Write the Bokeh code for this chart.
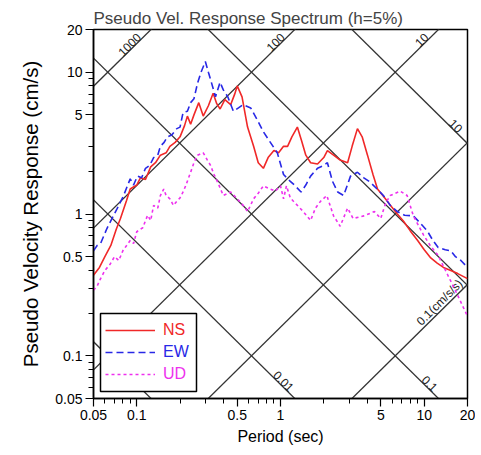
import math
from bokeh.plotting import figure
from bokeh.models import (FixedTicker, CustomJSTickFormatter, Legend, LegendItem,
                          BoxAnnotation, ColumnDataSource)
from bokeh.core.properties import value
from bokeh.embed import file_html
from bokeh.resources import INLINE

# ---------------- data ----------------
ns_period = [0.05, 0.055, 0.06, 0.066, 0.072, 0.077, 0.085, 0.09, 0.1, 0.106,
             0.115, 0.125, 0.135, 0.146, 0.16, 0.17, 0.185, 0.2, 0.215, 0.225,
             0.237, 0.25, 0.27, 0.29, 0.315, 0.34, 0.36, 0.38, 0.41, 0.45,
             0.48, 0.5, 0.54, 0.59, 0.65, 0.7, 0.76, 0.82, 0.9, 0.97,
             1.05, 1.12, 1.2, 1.31, 1.4, 1.5, 1.62, 1.81, 2.0, 2.12,
             2.34, 2.6, 2.93, 3.15, 3.43, 3.7, 4.03, 4.4, 4.73, 5.3,
             5.83, 6.5, 7.18, 8.0, 9.0, 10.0, 11.1, 12.3, 13.6, 15.3,
             17.1, 20.0]
ns_psv = [0.37, 0.42, 0.5, 0.6, 0.78, 0.93, 1.25, 1.5, 1.6, 1.8,
          1.75, 2.15, 2.3, 2.6, 2.7, 3.0, 3.2, 3.5, 4.2, 4.9,
          4.3, 5.0, 6.1, 4.9, 5.8, 7.1, 6.0, 5.5, 6.4, 5.9,
          7.0, 8.0, 6.7, 4.1, 3.0, 2.3, 2.1, 2.5, 2.8, 2.7,
          3.0, 3.0, 3.5, 4.1, 3.3, 2.6, 2.3, 2.25, 2.5, 2.8,
          2.6, 2.4, 2.3, 3.0, 4.0, 3.5, 2.6, 1.9, 1.5, 1.3,
          1.15, 1.0, 0.89, 0.76, 0.65, 0.56, 0.49, 0.45, 0.42, 0.4,
          0.38, 0.35]

ew_period = [0.05, 0.053, 0.056, 0.062, 0.068, 0.073, 0.081, 0.09, 0.095, 0.101,
             0.108, 0.115, 0.123, 0.131, 0.14, 0.146, 0.155, 0.163, 0.175, 0.19,
             0.2, 0.21, 0.225, 0.237, 0.25, 0.265, 0.28, 0.3, 0.315, 0.326,
             0.353, 0.38, 0.4, 0.43, 0.47, 0.51, 0.55, 0.62, 0.69, 0.76,
             0.85, 0.95, 1.05, 1.17, 1.25, 1.39, 1.5, 1.62, 1.81, 2.0,
             2.12, 2.3, 2.5, 2.75, 3.07, 3.43, 3.8, 4.2, 4.7, 5.2,
             5.8, 6.5, 7.3, 8.4, 9.5, 10.5, 11.5, 12.5, 14.0, 15.3,
             16.5, 18.0, 20.0]
ew_psv = [0.55, 0.6, 0.62, 0.79, 0.95, 1.09, 1.35, 1.77, 1.6, 1.85,
          1.8, 2.1, 2.2, 2.5, 2.6, 3.0, 3.2, 3.5, 3.6, 4.0,
          4.1, 5.2, 5.3, 6.1, 6.5, 8.4, 10.0, 11.9, 10.0, 8.9,
          6.7, 8.5, 7.5, 6.7, 5.3, 5.6, 5.9, 5.6, 4.6, 3.8,
          3.2, 2.7, 1.9, 1.7, 1.6, 1.43, 1.6, 1.85, 2.1, 2.2,
          2.3, 1.7, 1.43, 1.35, 1.85, 1.97, 1.8, 1.68, 1.5, 1.35,
          1.15, 1.04, 0.98, 0.97, 0.85, 0.76, 0.65, 0.58, 0.56, 0.55,
          0.5, 0.47, 0.42]

ud_period = [0.05, 0.053, 0.056, 0.06, 0.065, 0.07, 0.075, 0.08, 0.085, 0.09,
             0.095, 0.1, 0.11, 0.119, 0.125, 0.131, 0.14, 0.146, 0.154, 0.16,
             0.17, 0.18, 0.19, 0.2, 0.21, 0.22, 0.237, 0.25, 0.265, 0.29,
             0.31, 0.326, 0.345, 0.365, 0.4, 0.45, 0.5, 0.55, 0.59, 0.65,
             0.7, 0.76, 0.85, 0.92, 1.0, 1.05, 1.1, 1.17, 1.23, 1.44,
             1.62, 1.75, 1.9, 2.1, 2.34, 2.6, 2.93, 3.2, 3.8, 4.5,
             4.98, 5.4, 5.8, 6.8, 7.6, 8.4, 9.9, 11.0, 12.5, 14.6,
             17.0, 20.0]
ud_psv = [0.29, 0.31, 0.35, 0.4, 0.44, 0.5, 0.47, 0.55, 0.6, 0.65,
          0.62, 0.75, 0.8, 0.98, 0.9, 1.15, 1.1, 1.35, 1.5, 1.35,
          1.28, 1.15, 1.23, 1.3, 1.43, 1.6, 1.97, 2.3, 2.6, 2.7,
          2.4, 2.2, 1.9, 1.68, 1.35, 1.43, 1.28, 1.15, 1.04, 1.28,
          1.4, 1.58, 1.5, 1.45, 1.58, 1.28, 1.58, 1.3, 1.23, 1.04,
          0.9, 1.1, 1.23, 1.35, 0.97, 0.82, 1.1, 0.93, 0.97, 1.04,
          0.93, 1.2, 1.35, 1.45, 1.35, 0.97, 0.71, 0.6, 0.51, 0.37,
          0.27, 0.19]

x_ticks = [0.05, 0.1, 0.5, 1, 5, 10, 20]
x_minor = [0.06, 0.07, 0.08, 0.09, 0.2, 0.3, 0.4, 0.6, 0.7, 0.8, 0.9,
           2, 3, 4, 6, 7, 8, 9]
y_ticks = [0.05, 0.1, 0.5, 1, 5, 10, 20]
y_minor = [0.06, 0.07, 0.08, 0.09, 0.2, 0.3, 0.4, 0.6, 0.7, 0.8, 0.9,
           2, 3, 4, 6, 7, 8, 9]

disp_levels = [0.001, 0.01, 0.1, 1, 10, 100]       # cm
acc_levels = [0.1, 1, 10, 100, 1000, 10000]        # cm/s/s
acc_top_labels = [(1000, "1000"), (100, "100"), (10, "10")]
acc_right_labels = [(0.1, "0.1(cm/s/s)")]
disp_bottom_labels = [(0.01, "0.01"), (0.1, "0.1")]
disp_right_labels = [(10, "10")]

series_names = ["NS", "EW", "UD"]
series_colors = ["#f02828", "#2828e6", "#ee30ee"]

X_LO, X_HI = 0.05, 20.0
Y_LO, Y_HI = 0.05, 20.0
TWO_PI = 2 * math.pi
PX_DEC = 143.5
FONT = "Liberation Sans"

p = figure(width=475, height=447, x_axis_type="log", y_axis_type="log",
           x_range=(X_LO, X_HI), y_range=(Y_LO, Y_HI),
           output_backend="svg", toolbar_location=None,
           min_border_left=93, min_border_right=8, min_border_top=29,
           min_border_bottom=45)

p.title.text = "Pseudo Vel. Response Spectrum (h=5%)"
p.title.text_font = FONT
p.title.text_font_size = "17px"
p.title.text_font_style = "normal"
p.title.align = "left"
p.title.offset = 0
p.title.standoff = 3

p.grid.visible = False
p.outline_line_color = "black"
p.outline_line_width = 1.5
p.outline_line_alpha = 1.0
p.background_fill_color = "white"
p.border_fill_color = "white"

for ax in (p.xaxis[0], p.yaxis[0]):
    ax.major_label_text_font = FONT
    ax.major_label_text_font_size = "14px"
    ax.major_label_text_color = "black"
    ax.axis_label_text_font = FONT
    ax.axis_label_text_font_style = "normal"
    ax.axis_label_text_color = "black"
    ax.axis_line_color = "black"
    ax.axis_line_width = 1.5
    ax.major_tick_line_color = "black"
    ax.minor_tick_line_color = "black"
    ax.major_tick_line_width = 1.2
    ax.minor_tick_line_width = 1.0
    ax.major_tick_in = 0
    ax.major_tick_out = 8
    ax.minor_tick_in = 0
    ax.minor_tick_out = 5
    ax.formatter = CustomJSTickFormatter(code="return String(tick);")

p.xaxis.ticker = FixedTicker(ticks=x_ticks, minor_ticks=x_minor)
p.yaxis.ticker = FixedTicker(ticks=y_ticks, minor_ticks=y_minor)
p.xaxis.axis_label = "Period (sec)"
p.yaxis.axis_label = "Pseudo Velocity Response (cm/s)"
p.xaxis.axis_label_text_font_size = "16px"
p.yaxis.axis_label_text_font_size = "20.5px"
p.xaxis.major_label_standoff = 3
p.xaxis.axis_label_standoff = 5
p.yaxis.major_label_standoff = 3
p.yaxis.axis_label_standoff = 10

# ---------------- tripartite grid lines ----------------
t_span = [X_LO / 10, X_HI * 10]
grid_xs = [t_span for _ in disp_levels] + [t_span for _ in acc_levels]
grid_ys = ([[TWO_PI * d / t for t in t_span] for d in disp_levels] +
           [[a * t / TWO_PI for t in t_span] for a in acc_levels])
p.multi_line(grid_xs, grid_ys, line_color="#333333", line_width=1.3)

# labels of the diagonal lines
lab_x, lab_y, lab_t, lab_a = [], [], [], []
s = 10 ** (-9 / PX_DEC)
for a, txt in acc_top_labels:
    t_end = TWO_PI * Y_HI / a
    lab_x.append(t_end * s); lab_y.append(Y_HI * s); lab_t.append(txt); lab_a.append(math.pi / 4)
s = 10 ** (-2 / PX_DEC)
for a, txt in acc_right_labels:
    v_end = a * X_HI / TWO_PI
    lab_x.append(X_HI * s); lab_y.append(v_end * s); lab_t.append(txt); lab_a.append(math.pi / 4)
s = 10 ** (-6 / PX_DEC)
for d, txt in disp_bottom_labels:
    t_end = TWO_PI * d / Y_LO
    lab_x.append(t_end * s); lab_y.append(Y_LO / s); lab_t.append(txt); lab_a.append(-math.pi / 4)
s = 10 ** (-10 / PX_DEC)
for d, txt in disp_right_labels:
    v_end = TWO_PI * d / X_HI
    lab_x.append(X_HI * s); lab_y.append(v_end / s); lab_t.append(txt); lab_a.append(-math.pi / 4)

lab_src = ColumnDataSource(dict(x=lab_x, y=lab_y, text=lab_t, angle=lab_a))
p.text(x="x", y="y", text="text", angle="angle", source=lab_src,
       text_font=value(FONT), text_font_size="12px", text_color="#222222",
       text_align="right", text_baseline="bottom")

# ---------------- response spectra ----------------
r_ns = p.line(ns_period, ns_psv, line_color=series_colors[0], line_width=1.6)
r_ew = p.line(ew_period, ew_psv, line_color=series_colors[1], line_width=1.6,
              line_dash="7 4")
r_ud = p.line(ud_period, ud_psv, line_color=series_colors[2], line_width=1.6,
              line_dash="3 3")

# ---------------- legend ----------------
box = BoxAnnotation(left=7, right=103, bottom=7, top=85,
                    left_units="screen", right_units="screen",
                    top_units="screen", bottom_units="screen",
                    fill_color="white", fill_alpha=1.0,
                    line_color="black", line_width=1.5, line_alpha=1.0)
p.add_layout(box)

for r, name, col, yb in zip([r_ns, r_ew, r_ud], series_names, series_colors, [58, 36, 14]):
    leg = Legend(items=[LegendItem(label=name, renderers=[r])], location=(12, yb),
                 margin=0, padding=0, spacing=0, glyph_width=50, glyph_height=20,
                 label_height=20, label_standoff=8,
                 label_text_font=FONT, label_text_font_size="16px",
                 label_text_color=col, background_fill_alpha=0,
                 border_line_alpha=0)
    p.add_layout(leg)

open("out.html", "w").write(file_html(p, INLINE))
